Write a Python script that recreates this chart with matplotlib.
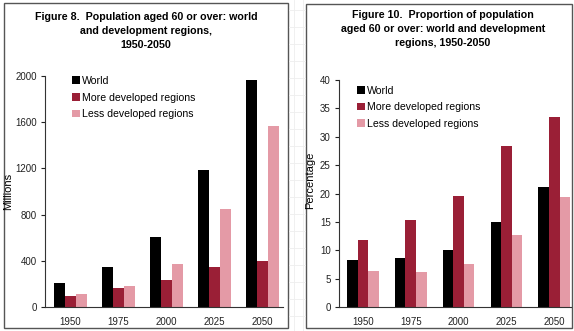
import matplotlib.pyplot as plt
import numpy as np
from matplotlib.patches import Rectangle

plt.rcParams['font.family'] = ['Liberation Sans', 'DejaVu Sans']

years = ["1950", "1975", "2000", "2025", "2050"]

# Figure 8: population aged 60+ (millions)
pop_world = [205, 350, 606, 1190, 1964]
pop_more = [94, 166, 231, 343, 395]
pop_less = [110, 184, 375, 847, 1569]

# Figure 10: proportion aged 60+ (percent)
pct_world = [8.2, 8.6, 10.0, 15.0, 21.1]
pct_more = [11.8, 15.4, 19.5, 28.3, 33.5]
pct_less = [6.4, 6.1, 7.6, 12.6, 19.3]

series_names = ["World", "More developed regions", "Less developed regions"]
colors = ["#000000", "#9a1f36", "#e49aa6"]

W, H = 574, 331
fig = plt.figure(figsize=(W / 100, H / 100), dpi=100)


def box(x0, y0, x1, y1):
    return [x0 / W, 1 - y1 / H, (x1 - x0) / W, (y1 - y0) / H]


# faint background grid like a spreadsheet
bg = fig.add_axes([0, 0, 1, 1])
bg.set_xlim(0, W)
bg.set_ylim(H, 0)
bg.axis("off")
for gx in np.arange(294, 305, 9):
    bg.axvline(gx, color="#eeeeee", lw=0.6)
for gy in np.arange(10, H, 17):
    bg.plot([289, 305], [gy, gy], color="#eeeeee", lw=0.6)
bg.add_patch(Rectangle((4, 3), 284, 325, fill=True, fc="white", ec="#555555", lw=1.0))
bg.add_patch(Rectangle((306, 4), 266, 324, fill=True, fc="white", ec="#555555", lw=1.0))


def draw(ax, data, ymax, yticks, xlim, bw, leg_anchor):
    x = np.arange(len(years))
    for i, (vals, c, name) in enumerate(zip(data, colors, series_names)):
        ax.bar(x + (i - 1) * bw, vals, bw, color=c, label=name)
    ax.set_xlim(*xlim)
    ax.set_ylim(0, ymax)
    ax.set_yticks(yticks)
    ax.set_xticks(x)
    ax.set_xticklabels(years)
    ax.spines["top"].set_visible(False)
    ax.spines["right"].set_visible(False)
    ax.spines["left"].set_color("#333333")
    ax.spines["bottom"].set_color("#333333")
    ax.tick_params(axis="x", length=0, labelsize=7, pad=7, colors="#222222")
    ax.tick_params(axis="y", length=3, width=0.8, labelsize=7, pad=3, colors="#222222")
    ax.patch.set_alpha(0)
    ax.legend(loc="upper left", bbox_to_anchor=leg_anchor, frameon=False,
              fontsize=7.6, handlelength=0.75, handleheight=0.75,
              handletextpad=0.2, labelspacing=0.62, borderaxespad=0, borderpad=0)


ax1 = fig.add_axes(box(45, 76, 283, 307))
draw(ax1, [pop_world, pop_more, pop_less], 2000, [0, 400, 800, 1200, 1600, 2000],
     (-0.53, 4.42), 0.23, (0.113, 1.0))
ax1.set_ylabel("Millions", fontsize=8)
ax1.yaxis.set_label_coords(-0.134, 0.5)

ax2 = fig.add_axes(box(339, 80, 571, 307))
draw(ax2, [pct_world, pct_more, pct_less], 40, list(range(0, 41, 5)),
     (-0.5, 4.35), 0.22, (0.078, 0.975))
ax2.set_ylabel("Percentage", fontsize=8)
ax2.yaxis.set_label_coords(-0.103, 0.56)

fig.text(146 / W, 1 - 31 / H,
         "Figure 8.  Population aged 60 or over: world\nand development regions,\n1950-2050",
         ha="center", va="center", fontsize=7.7, fontweight="bold", linespacing=1.55)
fig.text(443 / W, 1 - 29 / H,
         "Figure 10.  Proportion of population\naged 60 or over: world and development\nregions, 1950-2050",
         ha="center", va="center", fontsize=7.7, fontweight="bold", linespacing=1.55)

fig.savefig("out.png", dpi=100)
